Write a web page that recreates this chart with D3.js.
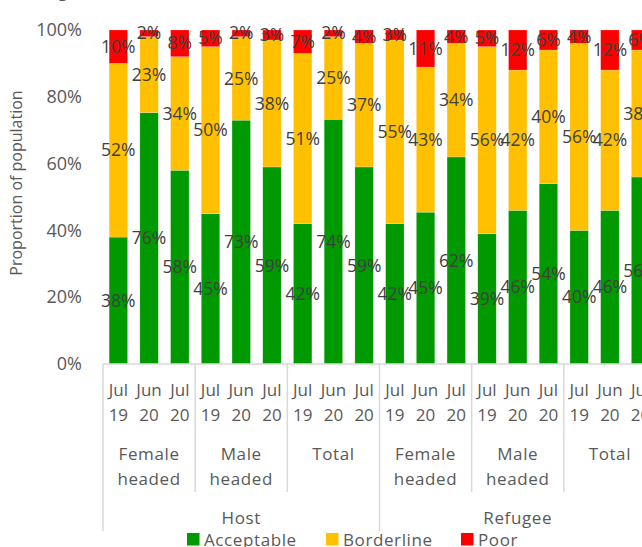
<!DOCTYPE html>
<html>
<head>
<meta charset="utf-8">
<script src="https://cdn.jsdelivr.net/npm/d3@7"></script>
<style>
  html, body { margin: 0; padding: 0; background: #fff; }
  svg { display: block; font-family: "Open Sans", "Noto Sans", sans-serif; }
</style>
</head>
<body>
<svg id="chart" width="642" height="547"></svg>
<script>
// ---------- data ----------
const populations = ["Host", "Refugee"];
const subgroups = [["Female", "headed"], ["Male", "headed"], ["Total"]];
const periods = [["Jul", "19"], ["Jun", "20"], ["Jul", "20"]];
const seriesNames = ["Acceptable", "Borderline", "Poor"];
const seriesColors = ["#009900", "#FFC000", "#FF0000"];
// order: Host F(Jul19,Jun20,Jul20), Host M, Host T, Refugee F, Refugee M, Refugee T
const acceptable = [38, 76, 58, 45, 73, 59, 42, 74, 59, 42, 45, 62, 39, 46, 54, 40, 46, 56];
const borderline = [52, 23, 34, 50, 25, 38, 51, 25, 37, 55, 43, 34, 56, 42, 40, 56, 42, 38];
const poor       = [10,  2,  8,  5,  2,  3,  7,  2,  4,  3, 11,  4,  5, 12,  6,  4, 12,  6];
const yTicks = [0, 0.2, 0.4, 0.6, 0.8, 1.0];

// ---------- build rows ----------
const rows = [];
let k = 0;
populations.forEach((p, pi) => {
  subgroups.forEach((s, si) => {
    periods.forEach((t, ti) => {
      rows.push({ idx: k, pop: p, pi, sub: s, si, per: t,
        Acceptable: acceptable[k], Borderline: borderline[k], Poor: poor[k] });
      k++;
    });
  });
});

const svg = d3.select("#chart");
const textCol = "#595959";
const catFont = 17;

const x0 = 103, step = 30.72;
const x = d3.scaleBand()
  .domain(rows.map(d => d.idx))
  .range([x0, x0 + step * rows.length])
  .paddingInner(0.4).paddingOuter(0.2);
const y = d3.scaleLinear().domain([0, 1]).range([364, 30]);

// stacked normalized (100% stacked)
const stack = d3.stack().keys(seriesNames).offset(d3.stackOffsetExpand);
const stacked = stack(rows);

// title fragment (cut off at the top)
svg.append("text").attr("x", 22).attr("y", -3)
  .attr("font-size", 17).attr("fill", textCol).text("Refugees");

// bars
const layers = svg.append("g").selectAll("g").data(stacked).join("g")
  .attr("fill", (d, i) => seriesColors[i]);
layers.selectAll("rect").data(d => d).join("rect")
  .attr("x", d => x(d.data.idx))
  .attr("width", x.bandwidth())
  .attr("y", d => y(d[1]))
  .attr("height", d => y(d[0]) - y(d[1]))
  .attr("stroke", "rgba(255,255,255,0.35)").attr("stroke-width", 0.6);

// data labels
const labG = svg.append("g");
stacked.forEach((layer) => {
  labG.selectAll(null).data(layer).join("text")
    .attr("x", d => x(d.data.idx) + x.bandwidth() / 2)
    .attr("y", d => y((d[0] + d[1]) / 2))
    .attr("dy", "0.35em")
    .attr("text-anchor", "middle")
    .attr("font-size", 17.5)
    .attr("fill", "#404040")
    .text(d => d.data[layer.key] + "%");
});

// y axis
const yAxis = d3.axisLeft(y).tickValues(yTicks).tickFormat(d3.format(".0%"))
  .tickSize(0).tickPadding(21);
const yg = svg.append("g").attr("transform", `translate(${x0},0)`).call(yAxis);
yg.select(".domain").remove();
yg.selectAll("text").attr("font-size", 18).attr("fill", textCol)
  .attr("font-family", "'Open Sans', sans-serif");

svg.append("text")
  .attr("transform", "translate(22,183) rotate(-90)")
  .attr("text-anchor", "middle").attr("font-size", 16).attr("fill", textCol)
  .text("Proportion of population");

// x axis baseline
const xEnd = x0 + step * rows.length;
const lineCol = "#d9d9d9";
svg.append("line").attr("x1", x0).attr("x2", xEnd).attr("y1", 364).attr("y2", 364)
  .attr("stroke", lineCol).attr("stroke-width", 1.5);

// period labels
const perG = svg.append("g").attr("font-size", catFont).attr("fill", textCol).attr("text-anchor", "middle");
rows.forEach(d => {
  const cx = x(d.idx) + x.bandwidth() / 2;
  perG.append("text").attr("x", cx).attr("y", 396).text(d.per[0]);
  perG.append("text").attr("x", cx).attr("y", 421).text(d.per[1]);
});

// subgroup dividers + labels
const nPer = periods.length, nSub = subgroups.length;
for (let g = 0; g <= populations.length * nSub; g++) {
  const bx = x0 + g * nPer * step;
  const major = g % nSub === 0;
  svg.append("line").attr("x1", bx).attr("x2", bx).attr("y1", 364)
    .attr("y2", major ? 531 : 492).attr("stroke", lineCol).attr("stroke-width", 1.5);
}
populations.forEach((p, pi) => {
  subgroups.forEach((s, si) => {
    const cx = x0 + (pi * nSub + si) * nPer * step + nPer * step / 2;
    s.forEach((w, wi) => {
      svg.append("text").attr("x", cx).attr("y", 460 + wi * 25)
        .attr("text-anchor", "middle").attr("font-size", catFont)
        .attr("letter-spacing", 0.6).attr("fill", textCol).text(w);
    });
  });
  const cx = x0 + pi * nSub * nPer * step + nSub * nPer * step / 2;
  svg.append("text").attr("x", cx).attr("y", 524).attr("text-anchor", "middle")
    .attr("font-size", catFont).attr("letter-spacing", 0.6).attr("fill", textCol).text(p);
});

// legend
const legendX = [187, 326, 461];
const lg = svg.append("g");
seriesNames.forEach((n, i) => {
  lg.append("rect").attr("x", legendX[i]).attr("y", 533).attr("width", 12.5).attr("height", 12.5)
    .attr("fill", seriesColors[i]);
  lg.append("text").attr("x", legendX[i] + 17).attr("y", 545.5)
    .attr("font-size", catFont).attr("letter-spacing", 0.6).attr("fill", textCol).text(n);
});
</script>
</body>
</html>
